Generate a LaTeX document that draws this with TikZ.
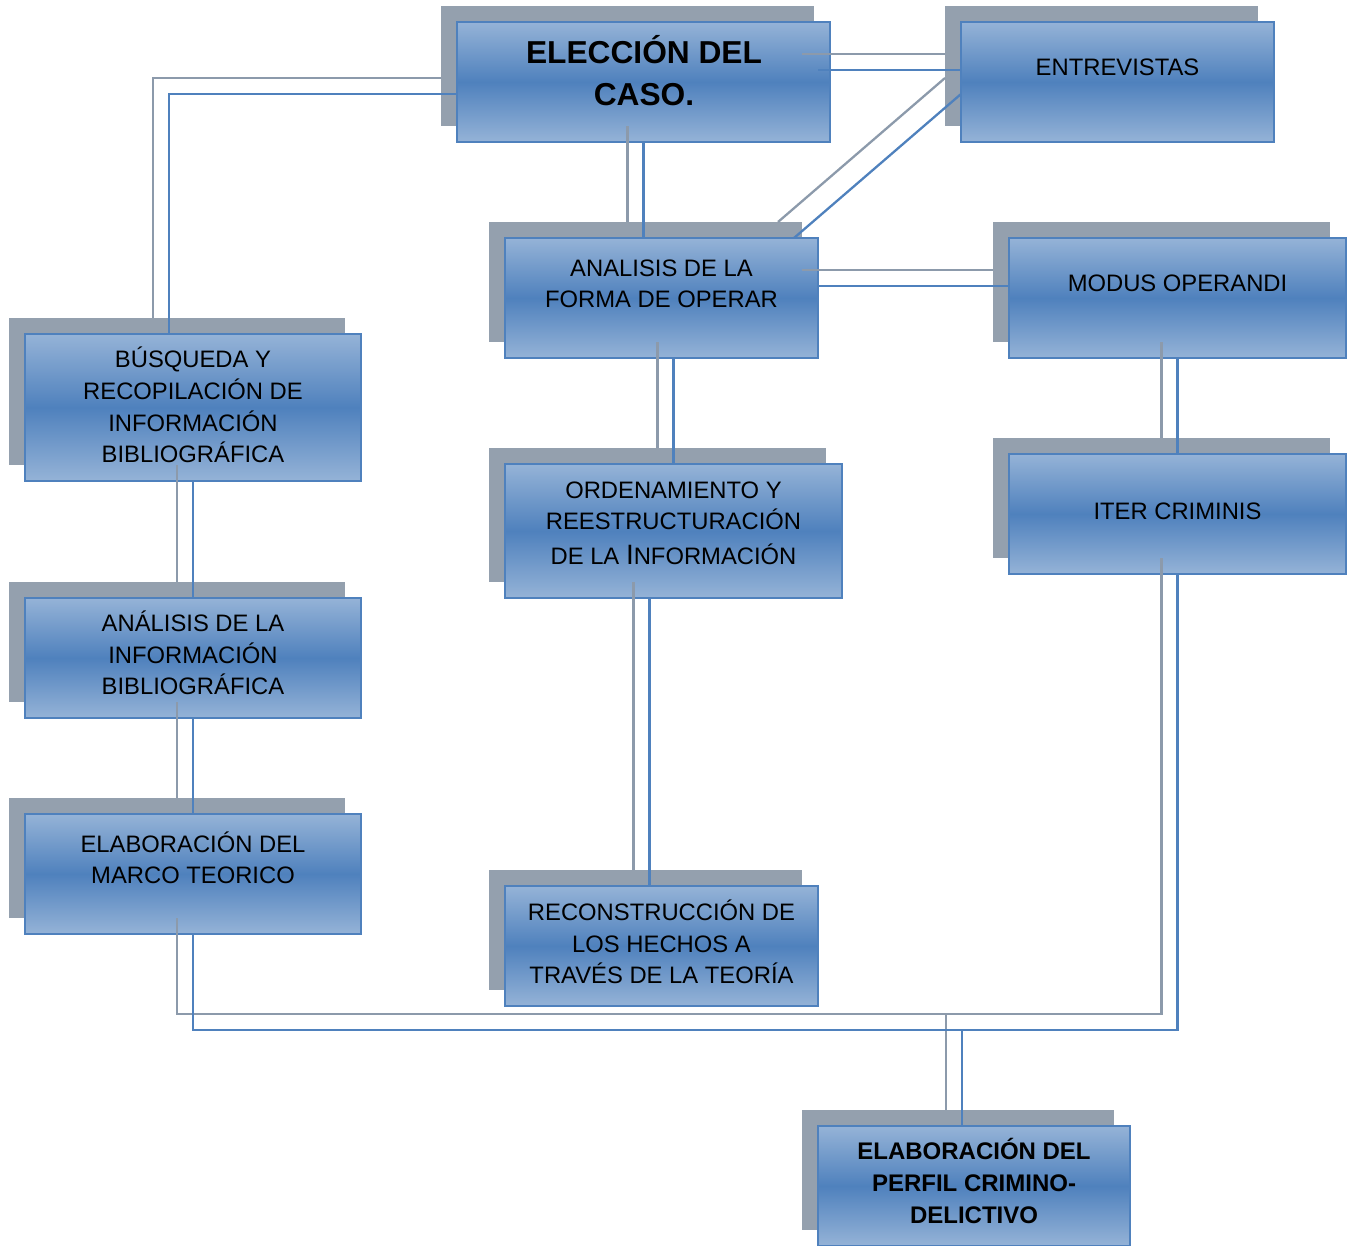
\documentclass[tikz,border=0pt]{standalone}
\usepackage{fontspec}
\setmainfont{Liberation Sans}
\usetikzlibrary{calc}
\definecolor{shd}{RGB}{148,160,174}
\definecolor{gline}{RGB}{140,154,171}
\definecolor{bline}{RGB}{79,129,189}
\definecolor{btop}{RGB}{149,179,215}
\newcommand\mkbox[5]{%
  \node[shadowbox,minimum width=#4pt,minimum height=#5pt] (#1S) at (#2-16,#3-16) {};
  \node[mainbox,minimum width=#4pt,minimum height=#5pt] (#1) at (#2,#3) {};}
\begin{document}
\begin{tikzpicture}[x=1pt,y=-1pt,
  shadowbox/.style={fill=shd,draw=none,inner sep=0pt,outer sep=0pt},
  mainbox/.style={draw=bline,line width=2.5pt,top color=btop,bottom color=btop,middle color=bline,inner sep=0pt,outer sep=0pt},
  lbl/.style={font=\fontsize{23.8}{31.7}\selectfont,align=center,inner sep=0pt,text=black,text height=17pt,anchor=north},
  bigl/.style={font=\fontsize{31.7}{42}\selectfont\bfseries,align=center,inner sep=0pt,text=black,text height=22.7pt,anchor=north},
  boldl/.style={font=\fontsize{24}{32}\selectfont\bfseries,align=center,inner sep=0pt,text=black,text height=17.2pt,anchor=north},
  gl/.style={draw=gline,line width=2.3pt},
  bl/.style={draw=bline,line width=2.3pt}]
\useasboundingbox (0,0) rectangle (1354,1245);
% boxes
\mkbox{elec}{643.5}{82}{373}{120}
\mkbox{entr}{1117.5}{82}{313}{120}
\mkbox{anal}{661.5}{298}{313}{120}
\mkbox{modus}{1177.5}{298}{337}{120}
\mkbox{busq}{193}{407.5}{336}{147}
\mkbox{orden}{673.5}{531}{337}{134}
\mkbox{iter}{1177.5}{514}{337}{120}
\mkbox{anbib}{193}{658}{336}{120}
\mkbox{marco}{193}{874}{336}{120}
\mkbox{recon}{661.5}{946}{313}{120}
\mkbox{perfil}{974}{1186}{312}{120}
% texts (anchor = cap top of the last line)
\node[bigl] (elecT) at (644,82.65) {ELECCIÓN DEL\\CASO.};
\node[lbl] (entrT) at (1117.5,58.5) {ENTREVISTAS};
\node[lbl] (analT) at (661.5,290.5) {ANALISIS DE LA\\FORMA DE OPERAR};
\node[lbl] (modusT) at (1177.5,274.5) {MODUS OPERANDI};
\node[lbl] (busqT) at (193,445.5) {BÚSQUEDA Y\\RECOPILACIÓN DE\\INFORMACIÓN\\BIBLIOGRÁFICA};
\node[lbl] (ordenT) at (673.5,547.5) {ORDENAMIENTO Y\\REESTRUCTURACIÓN\\[3.3pt]DE LA {\fontsize{28}{31.7}\selectfont I}NFORMACIÓN};
\node[lbl] (iterT) at (1177.5,502.5) {ITER CRIMINIS};
\node[lbl] (anbibT) at (193,677.5) {ANÁLISIS DE LA\\INFORMACIÓN\\BIBLIOGRÁFICA};
\node[lbl] (marcoT) at (193,866.5) {ELABORACIÓN DEL\\MARCO TEORICO};
\node[lbl] (reconT) at (661.5,966.5) {RECONSTRUCCIÓN DE\\LOS HECHOS A\\TRAVÉS DE LA TEORÍA};
\node[boldl] (perfilT) at (974,1206.4) {ELABORACIÓN DEL\\PERFIL CRIMINO-\\DELICTIVO};
% helper coordinates
\coordinate (rnS) at ([xshift=-12pt]reconS.north);
\coordinate (rn) at ([xshift=-12pt]recon.north);
\coordinate (juncS) at ([xshift=-12pt,yshift=96pt]perfilS.north);
\coordinate (junc) at ([xshift=-12pt,yshift=96pt]perfil.north);
% gray connectors (shadow layer)
\draw[gl] ([yshift=-12pt]elecS.west) -| ([xshift=-24pt]busqS.north);
\draw[gl] ([xshift=-12pt,yshift=12pt]elecS.east) -- ([yshift=12pt]entrS.west);
\draw[gl] (elecS.south) -- (elecS.south |- analS.north);
\draw[gl] ([xshift=-24pt]analS.north east) -- ([yshift=-12pt]entrS.west);
\draw[gl] ([yshift=12pt]analS.east) -- ([yshift=12pt]modusS.west);
\draw[gl] (ordenS.north |- analS.south) -- (ordenS.north);
\draw[gl] (rnS) -- (rnS |- ordenS.south);
\draw[gl] (modusS.south) -- (iterS.north);
\draw[gl] (busqS.south) -- (anbibS.north);
\draw[gl] (anbibS.south) -- (marcoS.north);
\draw[gl] (marcoS.south) |- (juncS) -| (iterS.south);
\draw[gl] (juncS) -- ([xshift=-12pt]perfilS.north);
% blue connectors
\draw[bl] ([yshift=-12pt]elec.west) -| ([xshift=-24pt]busq.north);
\draw[bl] ([xshift=-12pt,yshift=12pt]elec.east) -- ([yshift=12pt]entr.west);
\draw[bl] (elec.south) -- (elec.south |- anal.north);
\draw[bl] ([xshift=-24pt]anal.north east) -- ([yshift=-12pt]entr.west);
\draw[bl] ([yshift=12pt]anal.east) -- ([yshift=12pt]modus.west);
\draw[bl] (orden.north |- anal.south) -- (orden.north);
\draw[bl] (rn) -- (rn |- orden.south);
\draw[bl] (modus.south) -- (iter.north);
\draw[bl] (busq.south) -- (anbib.north);
\draw[bl] (anbib.south) -- (marco.north);
\draw[bl] (marco.south) |- (junc) -| (iter.south);
\draw[bl] (junc) -- ([xshift=-12pt]perfil.north);
\end{tikzpicture}
\end{document}
